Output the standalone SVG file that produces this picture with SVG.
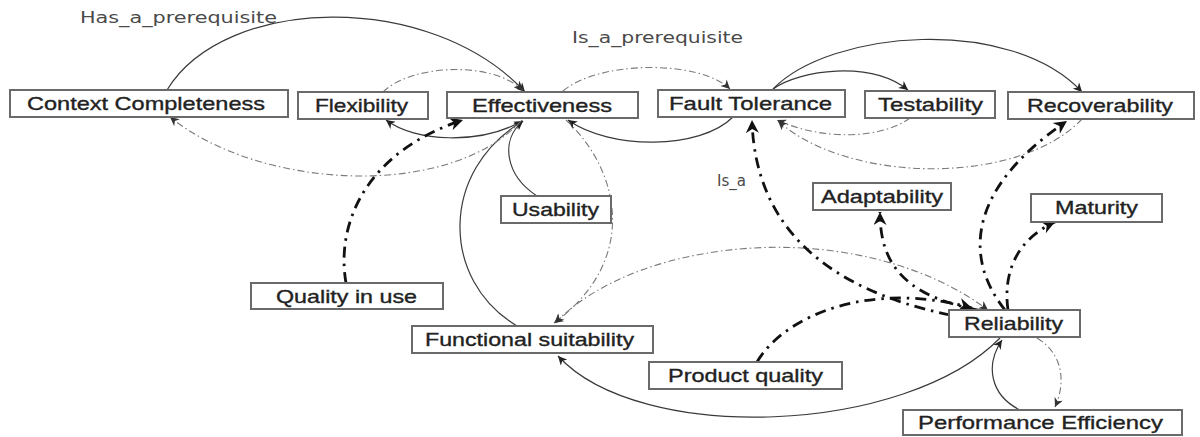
<svg xmlns="http://www.w3.org/2000/svg" width="1200" height="437" viewBox="0 0 1200 437">
  <style>
    .box { fill: #ffffff; stroke: #6a6a6a; stroke-width: 2; }
    .lbl { font-family: "Liberation Sans", Arial, sans-serif; font-size: 19px; fill: #222; stroke: #222; stroke-width: 0.35; text-anchor: start; }
    .elbl { font-family: "DejaVu Sans", "Liberation Sans", sans-serif; font-size: 16px; fill: #4a4a4a; }
    .solid { fill: none; stroke: #3a3a3a; stroke-width: 1.2; }
    .thin { fill: none; stroke: #7a7a7a; stroke-width: 1.1; stroke-dasharray: 7 3 1.5 3; }
    .thick { fill: none; stroke: #111; stroke-width: 2.8; stroke-dasharray: 11 6 2.5 6; }
  </style>
  <defs>
    <marker id="arS" viewBox="0 0 10 10" refX="10" refY="5" markerWidth="10" markerHeight="9" markerUnits="userSpaceOnUse" orient="auto-start-reverse">
      <path d="M0,0 L10,5 L0,10 L3,5 z" fill="#222"/>
    </marker>
    <marker id="arD" viewBox="0 0 10 10" refX="10" refY="5" markerWidth="10" markerHeight="9" markerUnits="userSpaceOnUse" orient="auto-start-reverse">
      <path d="M0,0 L10,5 L0,10 L3,5 z" fill="#333"/>
    </marker>
    <marker id="arB" viewBox="0 0 10 10" refX="10" refY="5" markerWidth="15" markerHeight="13" markerUnits="userSpaceOnUse" orient="auto-start-reverse">
      <path d="M0,0 L10,5 L0,10 L3,5 z" fill="#111"/>
    </marker>
  </defs>

  <g id="connectors">
    <!-- solid: prerequisite relations -->
    <path class="solid" d="M167,90 C225,-5 430,-10 525,92" marker-end="url(#arS)"/>
    <path class="solid" d="M522,121 C480,145 415,142 386,120" marker-end="url(#arS)"/>
    <path class="solid" d="M537,196 C505,175 500,140 523,121" marker-end="url(#arS)"/>
    <path class="solid" d="M517,326 C440,280 440,170 523,121" marker-end="url(#arS)"/>
    <path class="solid" d="M733,117 C700,150 610,150 568,120" marker-end="url(#arS)"/>
    <path class="solid" d="M773,89 C800,70 870,60 908,90" marker-end="url(#arS)"/>
    <path class="solid" d="M773,89 C830,30 1010,15 1082,92" marker-end="url(#arS)"/>
    <path class="solid" d="M1020,410 C990,395 985,365 1002,340" marker-end="url(#arS)"/>
    <path class="solid" d="M1000,338 C905,435 640,445 558,356" marker-end="url(#arS)"/>

    <!-- thin dash-dot: inverse relations -->
    <path class="thin" d="M522,120 C450,200 260,190 170,117" marker-end="url(#arD)"/>
    <path class="thin" d="M383,92 C410,65 490,60 523,90" marker-end="url(#arD)"/>
    <path class="thin" d="M566,120 C620,170 640,260 554,323" marker-end="url(#arD)"/>
    <path class="thin" d="M563,91 C600,60 700,60 730,89" marker-end="url(#arD)"/>
    <path class="thin" d="M910,118 C880,140 820,140 777,120" marker-end="url(#arD)"/>
    <path class="thin" d="M1082,119 C1020,185 850,185 778,121" marker-end="url(#arD)"/>
    <path class="thin" d="M555,323 C640,235 860,215 988,310" marker-start="url(#arD)" marker-end="url(#arD)"/>
    <path class="thin" d="M1037,338 C1065,355 1065,385 1055,407" marker-end="url(#arD)"/>

    <!-- thick dash-dot: Is_a relations -->
    <path class="thick" d="M346,283 C335,220 370,150 463,120" marker-end="url(#arB)"/>
    <path class="thick" d="M950,315 C830,290 755,230 752,120" marker-end="url(#arB)"/>
    <path class="thick" d="M757,362 C785,315 870,280 972,308" marker-end="url(#arB)"/>
    <path class="thick" d="M978,310 C900,295 880,260 880,212" marker-end="url(#arB)"/>
    <path class="thick" d="M1005,310 C965,260 965,190 1067,121" marker-end="url(#arB)"/>
    <path class="thick" d="M1008,310 C1003,275 1015,240 1055,222" marker-end="url(#arB)"/>

    <!-- edge labels -->
    <text class="elbl" x="80" y="23" textLength="197" lengthAdjust="spacingAndGlyphs">Has_a_prerequisite</text>
    <text class="elbl" x="572" y="43" textLength="171" lengthAdjust="spacingAndGlyphs">Is_a_prerequisite</text>
    <text class="elbl" x="717" y="186" textLength="29" lengthAdjust="spacingAndGlyphs">Is_a</text>
  </g>

  <g id="context-completeness">
    <rect class="box" x="10" y="90" width="278" height="27"/>
    <text class="lbl" x="27" y="110" textLength="238" lengthAdjust="spacingAndGlyphs">Context Completeness</text>
  </g>
  <g id="flexibility">
    <rect class="box" x="298" y="92" width="130" height="27"/>
    <text class="lbl" x="315" y="112" textLength="93" lengthAdjust="spacingAndGlyphs">Flexibility</text>
  </g>
  <g id="effectiveness">
    <rect class="box" x="447" y="92" width="191" height="26"/>
    <text class="lbl" x="472" y="112" textLength="140" lengthAdjust="spacingAndGlyphs">Effectiveness</text>
  </g>
  <g id="fault-tolerance">
    <rect class="box" x="658" y="90" width="187" height="27"/>
    <text class="lbl" x="669" y="110" textLength="163" lengthAdjust="spacingAndGlyphs">Fault Tolerance</text>
  </g>
  <g id="testability">
    <rect class="box" x="865" y="91" width="130" height="27"/>
    <text class="lbl" x="878" y="111" textLength="105" lengthAdjust="spacingAndGlyphs">Testability</text>
  </g>
  <g id="recoverability">
    <rect class="box" x="1008" y="92" width="186" height="27"/>
    <text class="lbl" x="1027" y="112" textLength="146" lengthAdjust="spacingAndGlyphs">Recoverability</text>
  </g>
  <g id="usability">
    <rect class="box" x="501" y="196" width="110" height="27"/>
    <text class="lbl" x="512" y="216" textLength="87" lengthAdjust="spacingAndGlyphs">Usability</text>
  </g>
  <g id="adaptability">
    <rect class="box" x="813" y="183" width="138" height="27"/>
    <text class="lbl" x="821" y="203" textLength="122" lengthAdjust="spacingAndGlyphs">Adaptability</text>
  </g>
  <g id="maturity">
    <rect class="box" x="1031" y="194" width="131" height="28"/>
    <text class="lbl" x="1055" y="214" textLength="83" lengthAdjust="spacingAndGlyphs">Maturity</text>
  </g>
  <g id="quality-in-use">
    <rect class="box" x="251" y="283" width="192" height="26"/>
    <text class="lbl" x="276" y="303" textLength="141" lengthAdjust="spacingAndGlyphs">Quality in use</text>
  </g>
  <g id="functional-suitability">
    <rect class="box" x="412" y="326" width="241" height="27"/>
    <text class="lbl" x="425" y="346" textLength="209" lengthAdjust="spacingAndGlyphs">Functional suitability</text>
  </g>
  <g id="reliability">
    <rect class="box" x="949" y="310" width="131" height="27"/>
    <text class="lbl" x="964" y="330" textLength="99" lengthAdjust="spacingAndGlyphs">Reliability</text>
  </g>
  <g id="product-quality">
    <rect class="box" x="649" y="362" width="193" height="27"/>
    <text class="lbl" x="668" y="382" textLength="155" lengthAdjust="spacingAndGlyphs">Product quality</text>
  </g>
  <g id="performance-efficiency">
    <rect class="box" x="903" y="410" width="279" height="25"/>
    <text class="lbl" x="918" y="429" textLength="245" lengthAdjust="spacingAndGlyphs">Performance Efficiency</text>
  </g>
</svg>
